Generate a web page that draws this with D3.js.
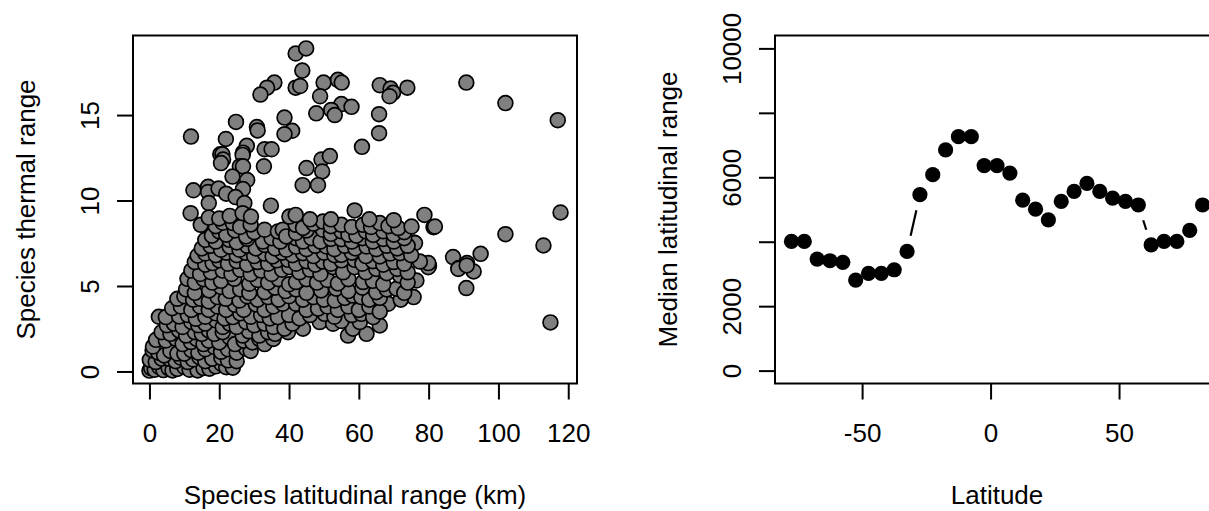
<!DOCTYPE html>
<html><head><meta charset="utf-8">
<script src="https://cdn.jsdelivr.net/npm/d3@7"></script>
<style>
body{margin:0;background:#fff}
svg{display:block}
text{font-family:"Liberation Sans",Arial,Helvetica,sans-serif;fill:#000}
</style>
</head><body>
<svg id="chart" width="1209" height="511"></svg>
<script>
// ---------- Left panel: species latitudinal range (km) vs thermal range ----------
const scatterPoints = [
  // sparse upper group
  [41.9,18.6],[44.9,18.9],[43.8,17.6],[35.8,16.9],[33.7,16.6],[31.8,16.2],[41.9,16.6],[43.2,16.7],
  [49.9,16.9],[54.0,17.06],[55.1,16.9],[48.9,16.1],[55.0,15.64],[57.9,15.48],[47.8,15.1],[52.1,15.3],
  [53.1,15.0],[66.0,16.75],[69.1,16.55],[69.8,16.3],[68.8,16.1],[73.9,16.6],[90.8,16.9],[102.0,15.7],
  [117.0,14.7],[65.8,15.05],[65.8,13.94],[60.9,13.14],[38.7,14.85],[40.9,14.08],[38.7,13.88],[30.8,14.3],
  [31.0,14.1],[24.8,14.6],[11.9,13.74],[21.9,13.6],[27.9,13.2],[26.8,12.8],[33.0,13.0],[35.0,13.0],
  [20.3,12.7],[20.9,12.7],[21.1,12.4],[20.5,12.19],[26.7,12.67],[25.9,12.0],[26.8,12.0],[32.8,12.0],
  [23.8,11.4],[28.0,11.2],[12.6,10.6],[16.8,10.8],[16.8,10.5],[19.8,10.7],[22.0,10.4],[26.8,10.67],
  [24.7,10.2],[17.0,9.85],[27.2,9.85],[34.8,9.7],[45.0,11.9],[49.3,12.4],[51.7,12.6],[49.5,11.7],
  [43.9,10.9],[48.3,10.9],
  // sparse right group
  [117.8,9.3],[102.0,8.03],[112.9,7.37],[87.0,6.69],[91.0,6.34],[94.9,6.88],[88.6,6.05],[92.9,5.85],
  [90.8,4.88],[114.9,2.87],[78.8,9.16],[81.4,8.44],[81.8,8.48],[75.7,7.55],[80.1,6.18],[75.7,4.35],
  [88.5,6.0],[90.9,6.2],[79.9,6.1],[79.9,6.34],[77.5,6.43],[76.5,5.32],[76.1,7.51],
  // main cluster
  [0,0.05],[0.5,0.2],[1.5,0.1],[2.8,0.26],[4,0.08],[5.5,0.2],[6.6,0.06],[8,0.15],[10,0.26],[11.5,0.1],
  [13.8,0.06],[15.5,0.2],[17.2,0.16],[19,0.3],[20.6,0.45],[22,0.25],[23.9,0.22],
  [0.3,0.7],[0.1,0.68],[1.8,0.55],[3.5,0.75],[5.7,0.74],[7.5,0.6],[9,0.8],[11,0.55],[12.5,0.7],[14.3,0.84],
  [16,0.6],[18,0.75],[20.6,0.8],[22.5,0.65],[25,0.6],
  [0.9,1.23],[2.5,1.1],[4.2,0.94],[6,1.2],[8,1.05],[10,1.04],[12,1.25],[14,1.1],[16,1.3],[18.6,1.43],
  [20.5,1.15],[22.5,1.3],[25,1.1],[27.7,1.33],[29,1.2],
  [1.0,1.46],[1.9,1.85],[4.7,1.81],[7.6,1.91],[9.5,1.6],[11.9,1.72],[13.5,1.9],[15.5,1.6],[17,1.8],[20,1.7],
  [22.9,2.01],[24.5,1.6],[27,1.8],[29.5,1.7],[31.5,1.9],[33,1.6],[35.5,1.9],
  [3.5,2.3],[6,2.2],[8.5,2.4],[10.5,2.1],[13,2.3],[15,2.2],[17,2.4],[18.6,2.2],[21,2.3],[26.7,2.1],
  [28.5,2.35],[31.5,2.1],[34,2.3],[36,2.2],[39.7,2.3],[44.0,2.5],[56.9,2.1],[58.3,2.5],[62.2,2.2],
  [2.7,3.2],[5,2.7],[7,2.8],[9.5,2.6],[12,2.9],[14,2.7],[16,2.8],[19.1,2.98],[21,2.6],[23,2.8],[25,2.6],
  [27.7,2.89],[30,2.7],[33,2.8],[35.5,2.6],[38.7,2.5],[41,2.8],[48.8,2.89],[52.6,2.79],[60.3,2.89],[66.0,2.69],[55,2.95],
  [4.7,3.18],[8.5,3.22],[11,3.3],[13.3,3.08],[16,3.2],[19,3.4],[21.5,3.1],[23.9,3.18],[26,3.4],[29,3.2],
  [32,3.3],[34.5,3.1],[36.8,3.18],[40,3.3],[43,3.1],[46,3.3],[50.2,3.37],[53,3.2],[58,3.3],[60.7,3.37],[64.1,3.18],
  [6.5,3.7],[9,3.8],[12,3.6],[14.5,3.8],[17,3.6],[19.5,3.8],[22,3.6],[24.5,3.9],[27,3.6],[30.5,3.92],
  [33,3.6],[35.5,3.8],[38.2,3.96],[42,3.96],[45,3.6],[48.3,3.67],[51,3.8],[54,3.6],[57,3.8],[60,3.6],
  [63,3.8],[68.4,3.96],[66,3.5],
  [8,4.25],[10,4.4],[12.5,4.2],[14.7,4.25],[17,4.1],[19.5,4.35],[21.9,4.25],[25.8,4.15],[28,4.4],[31,4.2],
  [34,4.35],[37,4.2],[40,4.4],[44,4.2],[47,4.35],[50,4.2],[53.1,4.15],[56,4.3],[58.3,4.44],[60.7,4.35],
  [63,4.2],[66,4.3],[72,4.2],
  [10.5,4.8],[13,4.6],[17.1,4.74],[20.5,4.94],[23,4.7],[26,4.8],[28.6,4.6],[33.0,4.64],[36,4.9],[39,4.7],
  [42,4.8],[45,4.6],[49.2,4.74],[53.5,4.84],[57,4.7],[61,4.9],[65,4.64],[68,4.8],[70.8,4.84],[73,4.6],
  [10.9,5.42],[13,5.2],[15.5,5.4],[18,5.2],[20.5,5.3],[24.3,5.42],[28.6,5.13],[31,5.35],[34,5.2],[37,5.4],
  [40,5.1],[42,5.23],[45,5.4],[48,5.2],[51,5.35],[54,5.15],[57,5.4],[61.2,5.23],[64,5.3],[67,5.1],[71.8,5.61],[74,5.2],
  [12,5.9],[14.5,5.7],[17.6,5.81],[21,5.9],[23.5,5.7],[26,5.95],[29,5.7],[32,5.9],[35,5.7],[38,5.95],
  [40.1,6.1],[43,5.8],[46,5.95],[49,5.7],[52.6,6.1],[55.5,5.8],[58.8,6.1],[62,5.8],[65,6.0],[68,5.75],[71,6.0],[74,5.8],
  [13,6.4],[16,6.25],[18.1,6.34],[20,6.5],[22.5,6.3],[25,6.45],[28,6.25],[31,6.4],[34,6.3],[36.5,6.5],
  [39.7,6.53],[42,6.3],[45,6.45],[47.5,6.25],[49.7,6.43],[52,6.3],[55,6.5],[58.8,6.53],[61,6.3],[64,6.45],
  [67,6.25],[70,6.4],[73,6.3],
  [13.8,6.77],[16,6.9],[19,6.8],[22,6.95],[25,6.8],[27.5,6.95],[30,6.75],[33,6.9],[35.3,6.73],[38,6.95],
  [41,6.8],[44,6.92],[47,6.75],[50,6.95],[53,6.8],[55,6.82],[58,6.95],[62,6.75],[66,6.73],[69,6.9],[71.8,6.92],[75,6.8],
  [15,7.2],[17.5,7.35],[20.5,7.12],[23,7.3],[25.8,7.12],[28,7.35],[30.5,7.2],[33,7.4],[36,7.2],[39.2,7.12],
  [42,7.3],[45,7.15],[47.5,7.35],[50.7,7.31],[53,7.15],[56,7.35],[59,7.2],[62.2,7.31],[65,7.15],[68,7.35],[71,7.2],[74,7.35],
  [16,7.7],[19,7.6],[22.9,7.7],[25,7.55],[28,7.75],[32.5,7.6],[35,7.8],[37.5,7.6],[41.9,7.8],[44,7.6],
  [46.4,7.8],[49,7.6],[52,7.75],[55,7.74],[58,7.6],[61,7.8],[64,7.6],[67,7.75],[70,7.6],[73,7.8],
  [17.9,7.94],[20,8.2],[22,8.0],[24.5,8.25],[27.7,7.9],[30,8.15],[33,8.29],[36.8,8.19],[38.2,8.29],[39.2,7.9],
  [42,8.1],[45,8.25],[49.7,8.29],[52,8.05],[55,8.2],[57,8.0],[59.3,7.94],[62,8.2],[64.1,7.99],[67,8.2],[70,8.0],[73,8.15],
  [14.7,8.58],[19,8.5],[21,8.7],[23.9,8.68],[26,8.45],[29,8.6],[41.9,8.58],[44,8.4],[47,8.65],[49.7,8.77],
  [52,8.5],[55,8.58],[58,8.45],[61.2,8.58],[63.5,8.45],[66,8.68],[68.5,8.5],[71.3,8.39],[75.1,8.48],
  [11.8,9.26],[17,9.0],[20,8.95],[23,9.1],[26.7,9.26],[29.1,9.06],[40.1,9.06],[41.9,9.16],[46,8.9],[52,8.9],
  [58.8,9.42],[63,8.9],[70,8.85]
];
const scatterXTicks = [0, 20, 40, 60, 80, 100, 120];
const scatterYTicks = [0, 5, 10, 15];
const scatterXTitle = "Species latitudinal range (km)";
const scatterYTitle = "Species thermal range";

// ---------- Right panel: median latitudinal range by latitude ----------
const latitudes = [-77.5,-72.5,-67.5,-62.5,-57.5,-52.5,-47.5,-42.5,-37.5,-32.5,-27.5,-22.5,-17.5,-12.5,-7.5,-2.5,
  2.5,7.5,12.5,17.5,22.5,27.5,32.5,37.5,42.5,47.5,52.5,57.5,62.5,67.5,72.5,77.5,82.5];
const medianLatRange = [4010,4010,3460,3410,3360,2810,3020,3020,3130,3700,5460,6080,6850,7260,7260,6360,
  6360,6130,5290,5010,4680,5250,5560,5810,5560,5350,5250,5140,3900,4010,4010,4350,5140];
const lineXTicks = [-50, 0, 50];
const lineYTicks = [0, 2000, 4000, 6000, 8000, 10000];
const lineYTickLabels = ["0", "2000", "", "6000", "", "10000"];
const lineXTitle = "Latitude";
const lineYTitle = "Median latitudinal range";

// ---------- drawing ----------
const svg = d3.select("#chart");
const FS = 26;
const plotTop = 35.5, plotBottom = 383.5;
const pad = ([a, b]) => [a - 0.04 * (b - a), b + 0.04 * (b - a)];

function frame(x0, x1, xScale, yScale, xTicks, yTicks, yLabels, xTitle, yTitle) {
  const g = svg.append("g");
  const xa = g.append("g").attr("transform", `translate(0,${plotBottom})`)
    .call(d3.axisBottom(xScale).tickValues(xTicks).tickSize(16).tickPadding(24));
  xa.select(".domain").remove();
  xa.selectAll("line").attr("stroke", "#000").attr("stroke-width", 2);
  xa.selectAll("text").attr("font-size", FS).attr("font-family", '"Liberation Sans",Arial,sans-serif')
    .attr("fill", "#000").text(d => d < 0 ? "-" + Math.abs(d) : String(d));
  const ya = g.append("g").attr("transform", `translate(${x0},0)`)
    .call(d3.axisLeft(yScale).tickValues(yTicks).tickSize(16)
      .tickFormat((d, i) => yLabels ? yLabels[i] : String(d)));
  ya.select(".domain").remove();
  ya.selectAll("line").attr("stroke", "#000").attr("stroke-width", 2);
  ya.selectAll("text").attr("font-size", FS).attr("font-family", '"Liberation Sans",Arial,sans-serif')
    .attr("fill", "#000").attr("x", null).attr("dy", null).attr("text-anchor", "middle")
    .attr("transform", "translate(-34,0) rotate(-90)");
  g.append("text").attr("x", (x0 + x1) / 2).attr("y", 504).attr("text-anchor", "middle")
    .attr("font-size", FS).text(xTitle);
  g.append("text").attr("transform", `translate(${x0 - 98},${(plotTop + plotBottom) / 2}) rotate(-90)`)
    .attr("text-anchor", "middle").attr("font-size", FS).text(yTitle);
  return g;
}

// Left scatter
const lx0 = 133, lx1 = 577;
const xL = d3.scaleLinear().domain(pad(d3.extent(scatterPoints, d => d[0]))).range([lx0, lx1]);
const yL = d3.scaleLinear().domain(pad(d3.extent(scatterPoints, d => d[1]))).range([plotBottom, plotTop]);
frame(lx0, lx1, xL, yL, scatterXTicks, scatterYTicks, null, scatterXTitle, scatterYTitle);
svg.append("g").selectAll("circle").data(scatterPoints).join("circle")
  .attr("cx", d => xL(d[0])).attr("cy", d => yL(d[1])).attr("r", 7.4)
  .attr("fill", "#808080").attr("stroke", "#000").attr("stroke-width", 1.7);
svg.append("rect").attr("x", lx0).attr("y", plotTop).attr("width", lx1 - lx0).attr("height", plotBottom - plotTop)
  .attr("fill", "none").attr("stroke", "#000").attr("stroke-width", 2);

// Right line/points (type "b": segments with gaps around points)
const rx0 = 775, rx1 = 1219;
const xR = d3.scaleLinear().domain(pad(d3.extent(latitudes))).range([rx0, rx1]);
const yR = d3.scaleLinear().domain(pad([0, 10000])).range([plotBottom, plotTop]);
frame(rx0, rx1, xR, yR, lineXTicks, lineYTicks, lineYTickLabels, lineXTitle, lineYTitle);
const pts = latitudes.map((lat, i) => [xR(lat), yR(medianLatRange[i])]);
const gap = 16;
const segs = [];
for (let i = 0; i < pts.length - 1; i++) {
  const [ax, ay] = pts[i], [bx, by] = pts[i + 1];
  const L = Math.hypot(bx - ax, by - ay);
  if (L > 2 * gap) {
    const ux = (bx - ax) / L, uy = (by - ay) / L;
    segs.push([ax + ux * gap, ay + uy * gap, bx - ux * gap, by - uy * gap]);
  }
}
svg.append("g").selectAll("line").data(segs).join("line")
  .attr("x1", d => d[0]).attr("y1", d => d[1]).attr("x2", d => d[2]).attr("y2", d => d[3])
  .attr("stroke", "#000").attr("stroke-width", 2.2);
svg.append("g").selectAll("circle").data(pts).join("circle")
  .attr("cx", d => d[0]).attr("cy", d => d[1]).attr("r", 7.6).attr("fill", "#000");
svg.append("rect").attr("x", rx0).attr("y", plotTop).attr("width", rx1 - rx0).attr("height", plotBottom - plotTop)
  .attr("fill", "none").attr("stroke", "#000").attr("stroke-width", 2);
</script>
</body></html>
